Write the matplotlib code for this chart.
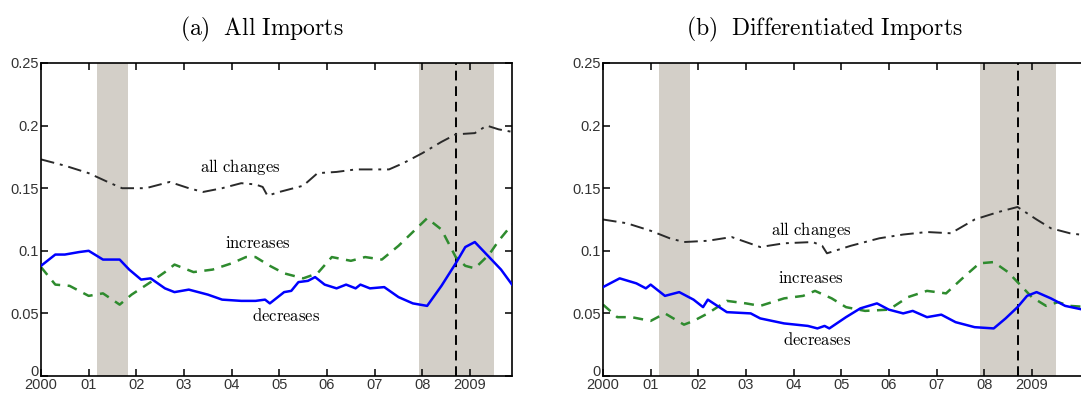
import matplotlib
matplotlib.use("Agg")
import matplotlib.pyplot as plt
import matplotlib.transforms as mtransforms

plt.rcParams['mathtext.fontset'] = 'cm'

###########
# DATA    #
###########

# panel (a) all imports
a_all_x = [2000.0, 2000.5, 2001.0, 2001.4, 2001.7, 2002.2, 2002.7, 2003.1, 2003.4, 2003.8,
           2004.2, 2004.5, 2004.65, 2004.75, 2005.0, 2005.5, 2005.8, 2006.2, 2006.6, 2007.0,
           2007.3, 2007.6, 2008.0, 2008.4, 2008.7, 2009.1, 2009.35, 2009.6, 2009.88]
a_all_y = [0.173, 0.168, 0.162, 0.155, 0.150, 0.150, 0.155, 0.150, 0.147, 0.150,
           0.154, 0.153, 0.151, 0.144, 0.147, 0.152, 0.162, 0.163, 0.165, 0.165,
           0.165, 0.170, 0.178, 0.187, 0.193, 0.194, 0.200, 0.197, 0.195]

a_inc_x = [2000.0, 2000.3, 2000.6, 2001.0, 2001.3, 2001.65, 2001.9, 2002.3, 2002.6, 2002.8,
           2003.2, 2003.6, 2004.0, 2004.3, 2004.5, 2004.8, 2005.1, 2005.5, 2005.8, 2006.1,
           2006.5, 2006.8, 2007.15, 2007.5, 2007.8, 2008.1, 2008.4, 2008.7, 2008.9, 2009.1,
           2009.4, 2009.6, 2009.88]
a_inc_y = [0.087, 0.073, 0.072, 0.064, 0.066, 0.057, 0.065, 0.075, 0.083, 0.089,
           0.083, 0.085, 0.090, 0.095, 0.095, 0.088, 0.082, 0.078, 0.082, 0.095,
           0.092, 0.095, 0.093, 0.104, 0.115, 0.126, 0.117, 0.095, 0.088, 0.086,
           0.097, 0.108, 0.121]

a_dec_x = [2000.0, 2000.3, 2000.5, 2000.8, 2001.0, 2001.3, 2001.65, 2001.85, 2002.1, 2002.3,
           2002.6, 2002.8, 2003.1, 2003.5, 2003.8, 2004.2, 2004.5, 2004.7, 2004.8, 2005.1,
           2005.25, 2005.4, 2005.6, 2005.75, 2005.95, 2006.2, 2006.4, 2006.6, 2006.7, 2006.9,
           2007.2, 2007.5, 2007.8, 2008.1, 2008.4, 2008.7, 2008.9, 2009.1, 2009.4, 2009.65,
           2009.88]
a_dec_y = [0.088, 0.097, 0.097, 0.099, 0.100, 0.093, 0.093, 0.085, 0.077, 0.078,
           0.070, 0.067, 0.069, 0.065, 0.061, 0.060, 0.060, 0.061, 0.058, 0.067,
           0.068, 0.075, 0.076, 0.079, 0.073, 0.070, 0.073, 0.070, 0.073, 0.070,
           0.071, 0.063, 0.058, 0.056, 0.072, 0.090, 0.103, 0.107, 0.095, 0.085,
           0.073]

# panel (b) differentiated imports
b_all_x = [2000.0, 2000.5, 2001.0, 2001.4, 2001.7, 2002.2, 2002.7, 2003.3, 2003.8, 2004.4,
           2004.6, 2004.7, 2005.2, 2005.8, 2006.3, 2006.8, 2007.3, 2007.8, 2008.3, 2008.7,
           2009.1, 2009.4, 2009.8, 2010.2]
b_all_y = [0.125, 0.122, 0.116, 0.110, 0.107, 0.108, 0.111, 0.103, 0.106, 0.107,
           0.104, 0.098, 0.104, 0.110, 0.113, 0.115, 0.114, 0.125, 0.131, 0.135,
           0.125, 0.118, 0.114, 0.112]

b_inc_x = [2000.0, 2000.3, 2000.6, 2001.0, 2001.3, 2001.7, 2001.9, 2002.2, 2002.6, 2003.0,
           2003.3, 2003.8, 2004.2, 2004.45, 2004.8, 2005.1, 2005.5, 2006.0, 2006.4, 2006.8,
           2007.2, 2007.6, 2007.9, 2008.2, 2008.5, 2008.75, 2009.0, 2009.3, 2009.55, 2009.8,
           2010.2]
b_inc_y = [0.057, 0.047, 0.047, 0.044, 0.050, 0.041, 0.044, 0.050, 0.060, 0.058,
           0.056, 0.062, 0.064, 0.068, 0.062, 0.055, 0.052, 0.053, 0.063, 0.068,
           0.066, 0.080, 0.090, 0.091, 0.083, 0.073, 0.063, 0.056, 0.059, 0.056,
           0.055]

b_dec_x = [2000.0, 2000.35, 2000.7, 2000.9, 2001.0, 2001.3, 2001.6, 2001.9, 2002.1, 2002.2,
           2002.6, 2003.1, 2003.3, 2003.8, 2004.3, 2004.5, 2004.65, 2004.75, 2005.1, 2005.4,
           2005.75, 2006.0, 2006.3, 2006.5, 2006.8, 2007.1, 2007.2, 2007.4, 2007.8, 2008.2,
           2008.45, 2008.7, 2008.9, 2009.1, 2009.4, 2009.7, 2010.2]
b_dec_y = [0.071, 0.078, 0.074, 0.070, 0.073, 0.064, 0.067, 0.061, 0.055, 0.061,
           0.051, 0.050, 0.046, 0.042, 0.040, 0.038, 0.040, 0.038, 0.047, 0.054,
           0.058, 0.053, 0.050, 0.052, 0.047, 0.049, 0.047, 0.043, 0.039, 0.038,
           0.046, 0.055, 0.064, 0.067, 0.062, 0.056, 0.052]

recessions = [(2001.17, 2001.83), (2007.92, 2009.5)]
lehman = 2008.7

xticks = list(range(2000, 2010))
xticklabels = ['2000', '01', '02', '03', '04', '05', '06', '07', '08', '2009']
yticks = [0, 0.05, 0.1, 0.15, 0.2, 0.25]
yticklabels = ['0', '0.05', '0.1', '0.15', '0.2', '0.25']

# label positions (x, y) per panel
a_labels = {'all changes': (2004.17, 0.167), 'increases': (2004.55, 0.106), 'decreases': (2005.14, 0.048)}
b_labels = {'all changes': (2004.37, 0.117), 'increases': (2004.36, 0.0785), 'decreases': (2004.5, 0.029)}


def draw_panel(ax, all_x, all_y, inc_x, inc_y, dec_x, dec_y, labels, xmax):
    for r0, r1 in recessions:
        ax.axvspan(r0, r1, color='#d3cfc8', lw=0, zorder=0)
    ax.axvline(lehman, color='black', ls=(0, (5, 3)), lw=1.4, zorder=1)
    ax.plot(all_x, all_y, color='#2a2a2a', ls=(0, (7, 3, 1.5, 3)), lw=1.4, zorder=2)
    ax.plot(inc_x, inc_y, color='#2e8b2e', ls=(0, (4, 3)), lw=1.8, zorder=2)
    ax.plot(dec_x, dec_y, color='#0000ff', ls='-', lw=1.8, zorder=3)
    for txt, (x, y) in labels.items():
        ax.text(x, y, r'$\mathrm{' + txt.replace(' ', r'\ ') + '}$', ha='center', va='center',
                fontsize=12, zorder=4)
    ax.set_xlim(2000, xmax)
    ax.set_ylim(0, 0.25)
    ax.set_xticks(xticks)
    ax.set_xticklabels(xticklabels)
    ax.set_yticks(yticks)
    ax.set_yticklabels(yticklabels)
    ax.tick_params(direction='in', top=True, right=True, length=5, width=1.1,
                   labelsize=10.5, pad=1.5)
    for lab in ax.get_xticklabels() + ax.get_yticklabels():
        lab.set_fontfamily('Liberation Sans')
        lab.set_color('#333333')
    # the "0" label sits a bit above the bottom spine
    zero = ax.get_yticklabels()[0]
    zero.set_transform(zero.get_transform() + mtransforms.ScaledTranslation(0, 5 / 100, ax.figure.dpi_scale_trans))
    for s in ax.spines.values():
        s.set_linewidth(1.2)


fig = plt.figure(figsize=(10.81, 3.94), dpi=100)
ax1 = fig.add_axes([41 / 1081, 18 / 394, 471 / 1081, 313 / 394])
ax2 = fig.add_axes([603 / 1081, 18 / 394, 486 / 1081, 313 / 394])

draw_panel(ax1, a_all_x, a_all_y, a_inc_x, a_inc_y, a_dec_x, a_dec_y, a_labels, 2009.88)
draw_panel(ax2, b_all_x, b_all_y, b_inc_x, b_inc_y, b_dec_x, b_dec_y, b_labels, 2010.2)

fig.text(262 / 1081, 1 - 29 / 394, r'$\mathrm{(a)\ \ All\ Imports}$', ha='center', va='center', fontsize=17)
fig.text(824 / 1081, 1 - 29 / 394, r'$\mathrm{(b)\ \ Differentiated\ Imports}$', ha='center', va='center', fontsize=17)

fig.savefig('out.png', dpi=100)
